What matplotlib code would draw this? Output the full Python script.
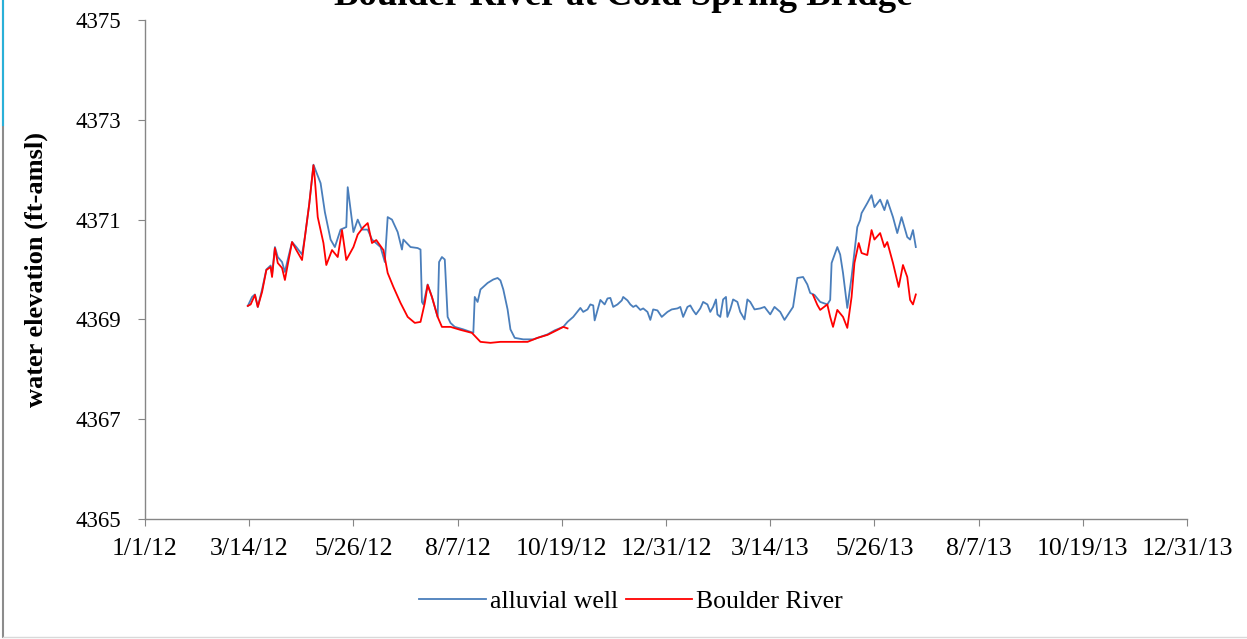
import numpy as np
import pandas as pd
import matplotlib
matplotlib.use("Agg")
import matplotlib.pyplot as plt
from matplotlib.lines import Line2D

plt.rcParams['font.family'] = ['Liberation Serif', 'DejaVu Serif']

# alluvial well record
well_dates = [
    '2012-03-13', '2012-03-16', '2012-03-18', '2012-03-20', '2012-03-23', '2012-03-26',
    '2012-03-29', '2012-03-30', '2012-04-01', '2012-04-03', '2012-04-06', '2012-04-08',
    '2012-04-10', '2012-04-13', '2012-04-16', '2012-04-20', '2012-04-22', '2012-04-25',
    '2012-04-28', '2012-04-30', '2012-05-03', '2012-05-06', '2012-05-10', '2012-05-13',
    '2012-05-17', '2012-05-21', '2012-05-22', '2012-05-24', '2012-05-26', '2012-05-29',
    '2012-06-01', '2012-06-05', '2012-06-08', '2012-06-14', '2012-06-17', '2012-06-19',
    '2012-06-22', '2012-06-26', '2012-06-29', '2012-06-30', '2012-07-05', '2012-07-10',
    '2012-07-12', '2012-07-13', '2012-07-14', '2012-07-17', '2012-07-20', '2012-07-24',
    '2012-07-25', '2012-07-27', '2012-07-29', '2012-07-31', '2012-08-02', '2012-08-05',
    '2012-08-11', '2012-08-16', '2012-08-18', '2012-08-19', '2012-08-21', '2012-08-23',
    '2012-08-28', '2012-09-01', '2012-09-04', '2012-09-06', '2012-09-08', '2012-09-11',
    '2012-09-13', '2012-09-16', '2012-09-22', '2012-09-29', '2012-10-04', '2012-10-09',
    '2012-10-14', '2012-10-20', '2012-10-23', '2012-10-27',
    '2012-11-01', '2012-11-03', '2012-11-06', '2012-11-08', '2012-11-10', '2012-11-11',
    '2012-11-15', '2012-11-18', '2012-11-20', '2012-11-22', '2012-11-24', '2012-11-27',
    '2012-11-30', '2012-12-01', '2012-12-04', '2012-12-06', '2012-12-08', '2012-12-10',
    '2012-12-13', '2012-12-15', '2012-12-18', '2012-12-20', '2012-12-22', '2012-12-25',
    '2012-12-28', '2013-01-01', '2013-01-04', '2013-01-08', '2013-01-10', '2013-01-12',
    '2013-01-15', '2013-01-17', '2013-01-19', '2013-01-21', '2013-01-24', '2013-01-26',
    '2013-01-29', '2013-01-31', '2013-02-02', '2013-02-04', '2013-02-05', '2013-02-07',
    '2013-02-09', '2013-02-11', '2013-02-12', '2013-02-14', '2013-02-16', '2013-02-19',
    '2013-02-21', '2013-02-24', '2013-02-26', '2013-02-28', '2013-03-03', '2013-03-07',
    '2013-03-10', '2013-03-14', '2013-03-17', '2013-03-19', '2013-03-21',
    '2013-03-24', '2013-03-30', '2013-04-02', '2013-04-06',
    '2013-04-09', '2013-04-11', '2013-04-14', '2013-04-18', '2013-04-23', '2013-04-25',
    '2013-04-26', '2013-04-30', '2013-05-02', '2013-05-04', '2013-05-07', '2013-05-10',
    '2013-05-14', '2013-05-16', '2013-05-17', '2013-05-21', '2013-05-24', '2013-05-26',
    '2013-05-30', '2013-06-02', '2013-06-04', '2013-06-08', '2013-06-11', '2013-06-14',
    '2013-06-18', '2013-06-20', '2013-06-22', '2013-06-24',
]
well_elev = [
    4369.27, 4369.45, 4369.50, 4369.25, 4369.60, 4370.00,
    4370.08, 4369.90, 4370.45, 4370.25, 4370.15, 4369.95,
    4370.20, 4370.55, 4370.45, 4370.30, 4370.65, 4371.30,
    4372.10, 4371.95, 4371.73, 4371.15, 4370.60, 4370.45,
    4370.80, 4370.85, 4371.65, 4371.20, 4370.75, 4371.00,
    4370.80, 4370.80, 4370.60, 4370.45, 4370.15, 4371.05,
    4371.00, 4370.75, 4370.40, 4370.60, 4370.45, 4370.43,
    4370.40, 4369.35, 4369.30, 4369.70, 4369.45, 4369.05,
    4370.15, 4370.25, 4370.20, 4369.05, 4368.93, 4368.85,
    4368.80, 4368.75, 4368.73, 4369.45, 4369.35, 4369.60,
    4369.73, 4369.80, 4369.83, 4369.78, 4369.60, 4369.20,
    4368.80, 4368.63, 4368.60, 4368.60, 4368.65, 4368.70,
    4368.78, 4368.85, 4368.95, 4369.05,
    4369.23, 4369.15, 4369.20, 4369.30, 4369.28, 4368.98,
    4369.39, 4369.30, 4369.42, 4369.43, 4369.25, 4369.30,
    4369.38, 4369.45, 4369.38, 4369.30, 4369.25, 4369.28,
    4369.19, 4369.22, 4369.15, 4368.99, 4369.20, 4369.18,
    4369.05, 4369.15, 4369.20, 4369.22, 4369.25, 4369.05,
    4369.25, 4369.28, 4369.18, 4369.10, 4369.22, 4369.35,
    4369.30, 4369.15, 4369.25, 4369.40, 4369.10, 4369.05,
    4369.40, 4369.45, 4369.05, 4369.20, 4369.40, 4369.35,
    4369.15, 4369.00, 4369.40, 4369.35, 4369.20, 4369.22,
    4369.25, 4369.10, 4369.25, 4369.20, 4369.15,
    4368.99, 4369.25, 4369.83, 4369.85,
    4369.70, 4369.53, 4369.49, 4369.35, 4369.30, 4369.39,
    4370.13, 4370.45, 4370.30, 4369.93, 4369.23, 4369.85,
    4370.85, 4370.99, 4371.13, 4371.33, 4371.49, 4371.25,
    4371.40, 4371.19, 4371.39, 4371.05, 4370.73, 4371.05,
    4370.65, 4370.60, 4370.79, 4370.45,
]

# Boulder River stage (no record between late Oct 2012 and mid Apr 2013)
river_dates = [
    '2012-03-13', '2012-03-15', '2012-03-18', '2012-03-20', '2012-03-23', '2012-03-26',
    '2012-03-29', '2012-03-30', '2012-04-01', '2012-04-03', '2012-04-06', '2012-04-08',
    '2012-04-10', '2012-04-13', '2012-04-16', '2012-04-20', '2012-04-22', '2012-04-25',
    '2012-04-28', '2012-04-29', '2012-05-01', '2012-05-05', '2012-05-07', '2012-05-11',
    '2012-05-15', '2012-05-18', '2012-05-21', '2012-05-26', '2012-05-29', '2012-06-02',
    '2012-06-05', '2012-06-08', '2012-06-11', '2012-06-16', '2012-06-19', '2012-06-23',
    '2012-06-28', '2012-07-03', '2012-07-08', '2012-07-12', '2012-07-15', '2012-07-17',
    '2012-07-20', '2012-07-24', '2012-07-27', '2012-08-02', '2012-08-09', '2012-08-17',
    '2012-08-23', '2012-08-30', '2012-09-06', '2012-09-15', '2012-09-25', '2012-10-02',
    '2012-10-09', '2012-10-16', '2012-10-20', '2012-10-23',
    '2012-12-31',
    '2013-04-13', '2013-04-16', '2013-04-18', '2013-04-23', '2013-04-25', '2013-04-27',
    '2013-04-30', '2013-05-04', '2013-05-07', '2013-05-10', '2013-05-12', '2013-05-15',
    '2013-05-17', '2013-05-21', '2013-05-24', '2013-05-26', '2013-05-30', '2013-06-02',
    '2013-06-04', '2013-06-08', '2013-06-12', '2013-06-15', '2013-06-18', '2013-06-20',
    '2013-06-22', '2013-06-24',
]
river_elev = [
    4369.27, 4369.30, 4369.49, 4369.25, 4369.55, 4369.99,
    4370.05, 4369.85, 4370.43, 4370.13, 4370.03, 4369.79,
    4370.10, 4370.55, 4370.39, 4370.19, 4370.65, 4371.30,
    4372.09, 4371.80, 4371.05, 4370.53, 4370.09, 4370.39,
    4370.25, 4370.79, 4370.19, 4370.45, 4370.70, 4370.85,
    4370.93, 4370.53, 4370.59, 4370.39, 4369.93, 4369.65,
    4369.33, 4369.05, 4368.93, 4368.95, 4369.33, 4369.69,
    4369.45, 4369.05, 4368.85, 4368.85, 4368.79, 4368.73,
    4368.55, 4368.53, 4368.55, 4368.55, 4368.55, 4368.63,
    4368.69, 4368.79, 4368.85, 4368.82,
    None,
    4369.49, 4369.29, 4369.19, 4369.30, 4369.05, 4368.85,
    4369.19, 4369.05, 4368.83, 4369.45, 4370.13, 4370.53,
    4370.33, 4370.29, 4370.79, 4370.60, 4370.73, 4370.45,
    4370.55, 4370.13, 4369.65, 4370.09, 4369.85, 4369.39,
    4369.30, 4369.50,
]

tick_dates = ['2012-01-01', '2012-03-14', '2012-05-26', '2012-08-07', '2012-10-19',
              '2012-12-31', '2013-03-14', '2013-05-26', '2013-08-07', '2013-10-19',
              '2013-12-31']
tick_labels = ['1/1/12', '3/14/12', '5/26/12', '8/7/12', '10/19/12', '12/31/12',
               '3/14/13', '5/26/13', '8/7/13', '10/19/13', '12/31/13']
y_ticks = [4365, 4367, 4369, 4371, 4373, 4375]

well_x = pd.to_datetime(well_dates)
river_x = pd.to_datetime(river_dates)
river_y = np.array([np.nan if v is None else v for v in river_elev], dtype=float)

fig = plt.figure(figsize=(12.47, 6.39), dpi=100)
ax = fig.add_axes([0.1163, 0.1878, 0.8356, 0.7809])

ax.plot(well_x, well_elev, color='#4a7ebb', lw=1.3, label='alluvial well')
ax.plot(river_x, river_y, color='#ff0000', lw=1.3, label='Boulder River')

ax.set_xlim(pd.Timestamp('2012-01-01'), pd.Timestamp('2013-12-31'))
ax.set_ylim(4365, 4375)
ax.set_xticks(pd.to_datetime(tick_dates))
ax.set_xticklabels(tick_labels)
ax.set_yticks(y_ticks)
ax.set_yticklabels([str(v) for v in y_ticks])

for side in ('top', 'right'):
    ax.spines[side].set_visible(False)
for side in ('left', 'bottom'):
    ax.spines[side].set_color('#868686')
    ax.spines[side].set_linewidth(1.0)
ax.tick_params(axis='both', direction='out', length=5, color='#868686', colors='black')
ax.tick_params(axis='x', labelsize=18.5, pad=9)
ax.tick_params(axis='y', labelsize=16.5, pad=12)

ax.set_ylabel('water elevation (ft-amsl)', fontsize=19, fontweight='bold', labelpad=20)

fig.text(0.5, 1 - 5 / 639, 'Boulder River at Cold Spring Bridge', ha='center',
         va='baseline', fontsize=26.5, fontweight='bold')

leg = fig.legend(loc='center', bbox_to_anchor=(0.506, 0.059), ncol=2, frameon=False,
                 fontsize=18.5, handlelength=2.6, handletextpad=0.15, columnspacing=0.3)

# sheet border
fig.add_artist(Line2D([3 / 1247, 3 / 1247], [0.003, 1], transform=fig.transFigure,
                      color='#8c8c8c', lw=1.5))
fig.add_artist(Line2D([3 / 1247, 3 / 1247], [1 - 125 / 639, 1], transform=fig.transFigure,
                      color='#2ab0d8', lw=1.5))
fig.add_artist(Line2D([3 / 1247, 1], [0.003, 0.003], transform=fig.transFigure,
                      color='#d9d9d9', lw=1.0))

fig.savefig('out.png', dpi=100)
